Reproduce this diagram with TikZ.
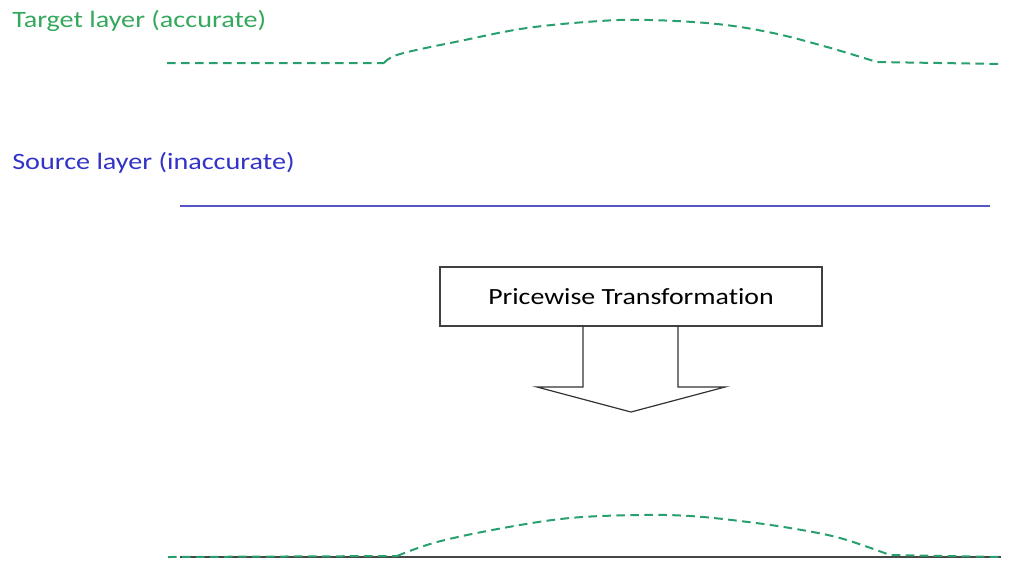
\documentclass[tikz,border=0pt]{standalone}
\usepackage{fontspec}
\setmainfont{Carlito}[Ligatures=NoCommon]
\definecolor{tgreen}{RGB}{52,168,92}
\definecolor{dgreen}{RGB}{40,160,110}
\definecolor{sblue}{RGB}{50,50,200}
\definecolor{lblue}{RGB}{85,85,200}
\definecolor{dgray}{RGB}{70,70,70}
\newcommand{\widetext}[1]{\scalebox{1.2}[1]{#1}}
\tikzset{
  lbl/.style={anchor=west, inner sep=0pt, font=\fontsize{17.6}{20}\selectfont},
  accdash/.style={draw=dgreen, line width=1.5pt, dash pattern=on 6.5pt off 4pt},
  srcline/.style={draw=lblue, line width=1.3pt},
  basline/.style={draw=dgray, line width=1.4pt},
  tbox/.style={draw=black!75, line width=0.9pt, fill=white, minimum width=382*0.75pt, minimum height=59*0.75pt, inner sep=0pt, font=\fontsize{17.4}{20}\selectfont},
  arrowshape/.style={draw=black!80, line width=0.9pt, line join=miter}
}
\begin{document}
\begin{tikzpicture}[x=0.75pt, y=-0.75pt]
\useasboundingbox (0,0) rectangle (1010,562);
% labels
\node[lbl, text=tgreen] (tlabel) at (12,21) {\widetext{Target layer (accurate)}};
\node[lbl, text=sblue] (slabel) at (12,163) {\widetext{Source layer (inaccurate)}};
% target layer
\coordinate (t0) at (167,63);
\coordinate (t1) at (384,63);
\coordinate (t3) at (1001,64);
\draw[accdash] (t0) -- (t1) plot[smooth, tension=0.6] coordinates {(384,63) (400,54) (460,41) (527,28) (600,21) (650,20) (717,24) (773,33) (827,47) (877,62)} -- (t3);
% source layer
\coordinate (s0) at (180,206);
\coordinate (s1) at (990,206);
\draw[srcline] (s0) -- (s1);
% transformation box and arrow
\node[tbox] (box) at (631,296.5) {\widetext{Pricewise Transformation}};
\coordinate (a1) at (583,326);
\coordinate (a2) at (583,387);
\coordinate (a3) at (537,387);
\coordinate (tip) at (631,412);
\coordinate (a5) at (725,387);
\coordinate (a6) at (678,387);
\coordinate (a7) at (678,326);
\draw[arrowshape] (a1) -- (a2) -- (a3) -- (tip) -- (a5) -- (a6) -- (a7);
% result
\coordinate (b0) at (180,557);
\coordinate (b1) at (1001,557);
\draw[basline] (b0) -- (b1);
\coordinate (r0) at (168,557);
\coordinate (r1) at (397,556);
\coordinate (r3) at (1000,557);
\draw[accdash] (r0) -- (r1) plot[smooth, tension=0.6] coordinates {(397,556) (437,542) (503,528) (570,518) (640,515) (690,516) (740,521) (790,528) (840,538) (890,555)} -- (r3);
\end{tikzpicture}
\end{document}
